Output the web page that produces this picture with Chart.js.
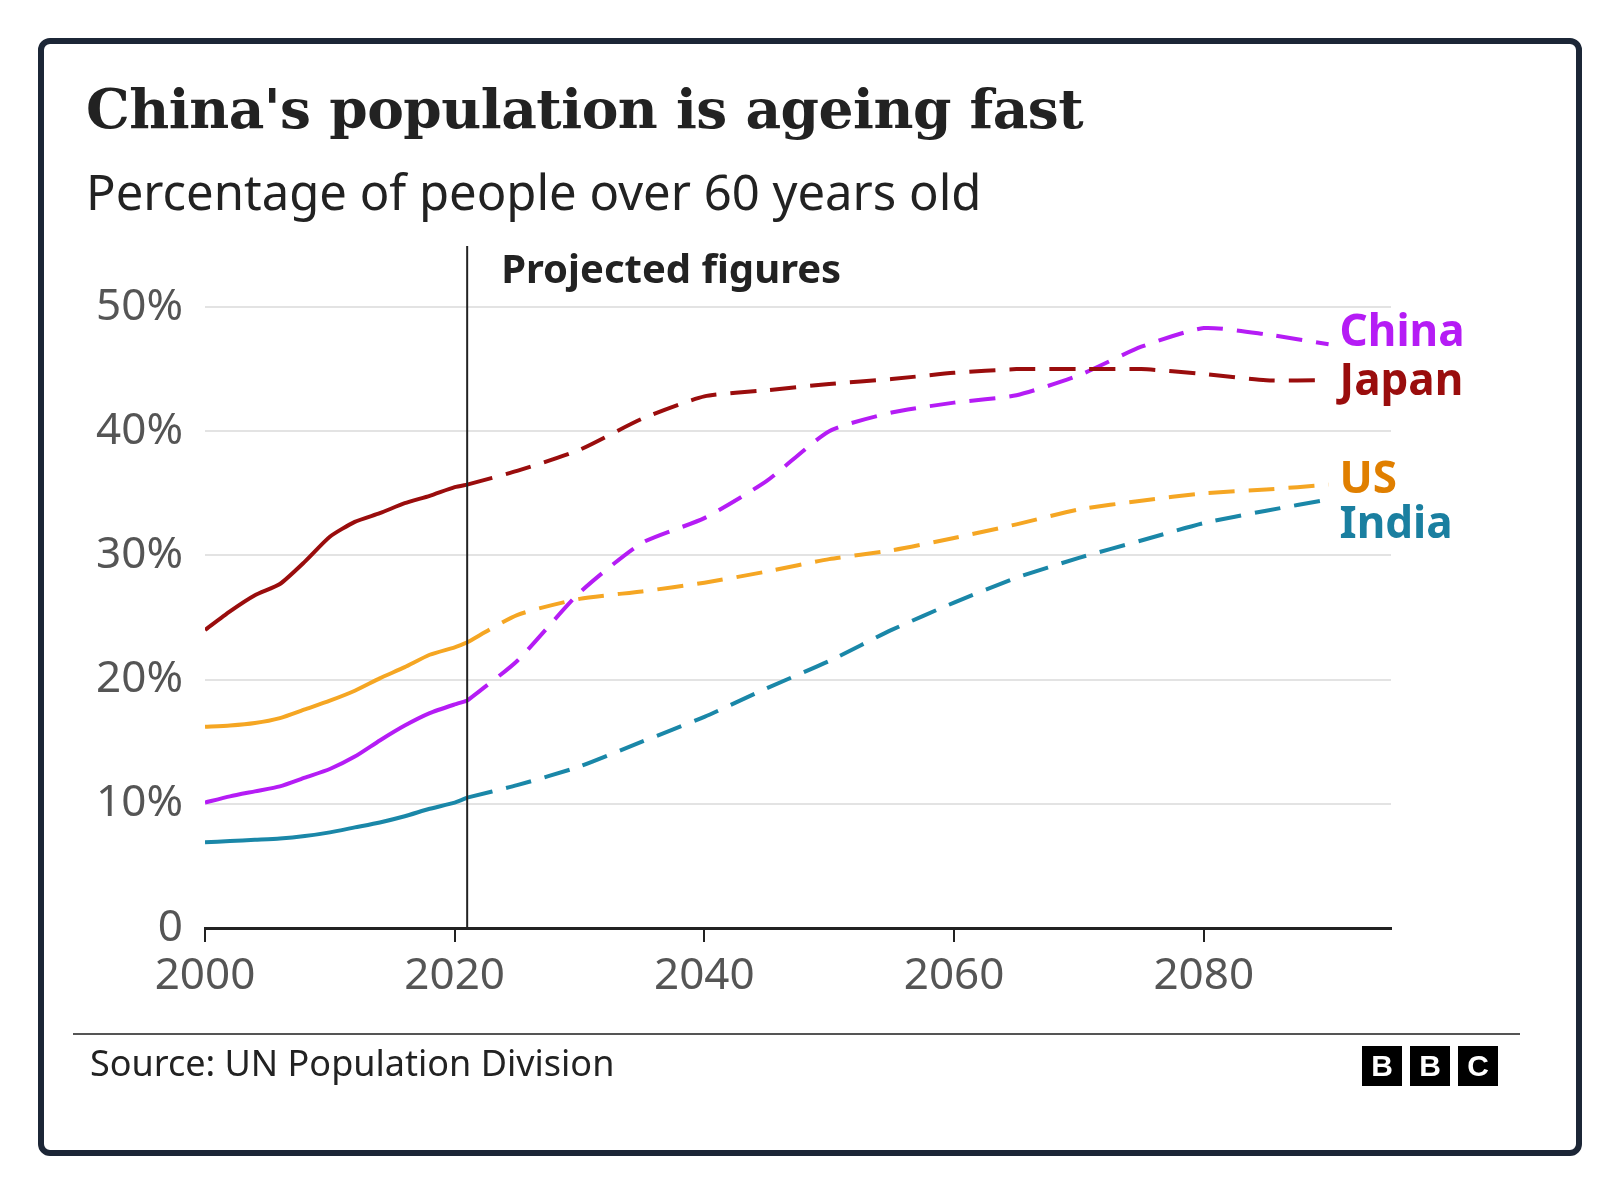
<!DOCTYPE html>
<html>
<head>
<meta charset="utf-8">
<script src="https://cdn.jsdelivr.net/npm/chart.js@4.4.1/dist/chart.umd.min.js"></script>
<style>
  html, body { margin: 0; padding: 0; background: #fff; }
  #wrap { position: relative; width: 1617px; height: 1193px; overflow: hidden; }
  #frame { position: absolute; left: 38px; top: 38px; width: 1532px; height: 1106px;
    border: 6px solid #1c2636; border-radius: 12px; }
  #title { position: absolute; left: 86px; top: 76px; font: bold 55px "DejaVu Serif", serif; color: #222; letter-spacing: -0.5px; }
  #subtitle { position: absolute; left: 86px; top: 158px; font: 49px "Noto Sans", sans-serif; color: #222; }
  #rule { position: absolute; left: 73px; top: 1033px; width: 1447px; height: 2px; background: #555; }
  #source { position: absolute; left: 90px; top: 1038px; font: 36px "Noto Sans", sans-serif; color: #222; }
  #bbc { position: absolute; left: 1362px; top: 1046px; display: flex; gap: 8px; }
  #bbc span { width: 40px; height: 40px; background: #000; color: #fff; font: bold 30px "Liberation Sans", sans-serif;
    display: flex; align-items: center; justify-content: center; }
  canvas { position: absolute; left: 0; top: 0; }
</style>
</head>
<body>
<div id="wrap">
  <div id="frame"></div>
  <div id="title">China's population is ageing fast</div>
  <div id="subtitle">Percentage of people over 60 years old</div>
  <canvas id="chart" width="1617" height="1193"></canvas>
  <div id="rule"></div>
  <div id="source">Source: UN Population Division</div>
  <div id="bbc"><span>B</span><span>B</span><span>C</span></div>
</div>
<script>
// years and values, historical (solid) and projected (dashed)
const histYears = [2000, 2002, 2004, 2006, 2008, 2010, 2012, 2014, 2016, 2018, 2020, 2021];
const japanHist = [24, 25.5, 26.8, 27.7, 29.5, 31.5, 32.7, 33.4, 34.2, 34.8, 35.5, 35.7];
const chinaHist = [10.1, 10.6, 11, 11.4, 12.1, 12.8, 13.8, 15.1, 16.3, 17.3, 18.0, 18.3];
const usHist = [16.2, 16.3, 16.5, 16.9, 17.6, 18.3, 19.1, 20.1, 21.0, 22.0, 22.6, 23.0];
const indiaHist = [6.9, 7.0, 7.1, 7.2, 7.4, 7.7, 8.1, 8.5, 9.0, 9.6, 10.1, 10.5];

const projYears = [2021, 2025, 2030, 2035, 2040, 2045, 2050, 2055, 2060, 2065, 2070, 2075, 2080, 2085, 2090];
const japanProj = [35.7, 36.8, 38.5, 41, 42.8, 43.3, 43.8, 44.2, 44.7, 45, 45, 45, 44.6, 44.1, 44.1];
const chinaProj = [18.3, 21.5, 27, 31, 33, 36, 40, 41.5, 42.3, 42.9, 44.5, 46.8, 48.3, 47.8, 47];
const usProj = [23, 25.2, 26.5, 27.1, 27.8, 28.7, 29.7, 30.4, 31.4, 32.5, 33.7, 34.4, 35, 35.3, 35.7];
const indiaProj = [10.5, 11.5, 13, 15, 17, 19.3, 21.5, 24, 26.2, 28.2, 29.8, 31.2, 32.6, 33.6, 34.5];

const yTicks = [0, 10, 20, 30, 40, 50];
const xTicks = [2000, 2020, 2040, 2060, 2080];

const colors = { China: '#b51cf5', Japan: '#9a0d0d', US: '#f5a623', India: '#1a87a8' };
const labelColors = { China: '#b51cf5', Japan: '#9a0d0d', US: '#e07f00', India: '#1a7fa0' };
const labelY = { China: 47.9, Japan: 43.9, US: 36, India: 32.4 };

function pts(xs, ys) { return xs.map((x, i) => ({ x: x, y: ys[i] })); }
function ds(name, xs, ys, dashed) {
  return { label: name, data: pts(xs, ys), borderColor: colors[name], borderWidth: 4,
    borderDash: dashed ? [26, 14] : [], pointRadius: 0, tension: 0.2, fill: false };
}

const overlay = {
  id: 'overlay',
  afterDraw(chart) {
    const { ctx, scales: { x, y } } = chart;
    ctx.save();
    const px = x.getPixelForValue(2021);
    ctx.strokeStyle = '#222'; ctx.lineWidth = 2;
    ctx.beginPath(); ctx.moveTo(px, 246); ctx.lineTo(px, y.getPixelForValue(0)); ctx.stroke();
    ctx.fillStyle = '#222'; ctx.font = 'bold 40px "Noto Sans", sans-serif';
    ctx.textBaseline = 'middle';
    ctx.fillText('Projected figures', px + 34, 272);
    ctx.font = 'bold 44px "Noto Sans", sans-serif';
    Object.keys(labelY).forEach(k => {
      ctx.fillStyle = labelColors[k];
      ctx.fillText(k, x.getPixelForValue(2090) + 11, y.getPixelForValue(labelY[k]));
    });
    ctx.restore();
  }
};

new Chart(document.getElementById('chart'), {
  type: 'line',
  data: {
    datasets: [
      ds('Japan', histYears, japanHist, false), ds('Japan', projYears, japanProj, true),
      ds('US', histYears, usHist, false), ds('US', projYears, usProj, true),
      ds('India', histYears, indiaHist, false), ds('India', projYears, indiaProj, true),
      ds('China', histYears, chinaHist, false), ds('China', projYears, chinaProj, true)
    ]
  },
  options: {
    responsive: false, animation: false,
    layout: { padding: { left: 0, top: 307, right: 226, bottom: 0 } },
    plugins: { legend: { display: false }, tooltip: { enabled: false } },
    scales: {
      x: {
        type: 'linear', min: 2000, max: 2095,
        afterFit(s) { s.height = 1193 - 928; },
        afterBuildTicks(s) { s.ticks = xTicks.map(v => ({ value: v })); },
        grid: { drawOnChartArea: false, drawTicks: true, tickLength: 14, color: '#222', lineWidth: 2 },
        border: { display: true, color: '#222', width: 3 },
        ticks: { color: '#555', font: { size: 44, family: 'Noto Sans' }, padding: 8,
          callback: v => String(v) }
      },
      y: {
        min: 0, max: 50,
        afterFit(s) { s.width = 205; },
        afterBuildTicks(s) { s.ticks = yTicks.map(v => ({ value: v })); },
        grid: { drawTicks: false, color: c => c.tick.value === 0 ? 'rgba(0,0,0,0)' : '#e3e3e3', lineWidth: 2 },
        border: { display: false },
        ticks: { color: '#555', font: { size: 44, family: 'Noto Sans' }, padding: 22,
          callback: v => v === 0 ? '0' : v + '%' }
      }
    }
  },
  plugins: [overlay]
});
</script>
</body>
</html>
